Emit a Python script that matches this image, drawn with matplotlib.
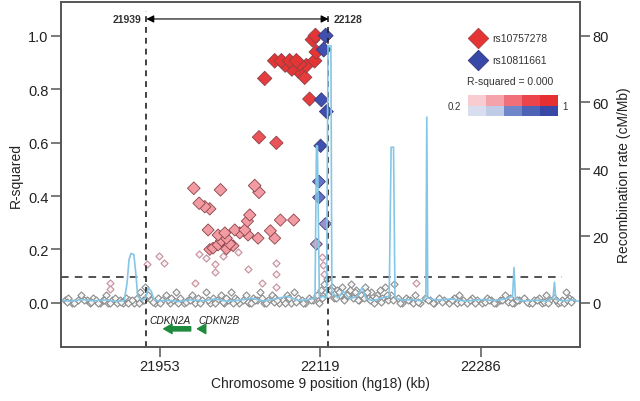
import matplotlib
matplotlib.use('Agg')
import matplotlib.pyplot as plt
from matplotlib.patches import Rectangle

plt.rcParams['font.family'] = ['Liberation Sans', 'DejaVu Sans']

# ---- data (positions in kb, hg18) ----
# SNPs in LD with rs10757278 (R-squared >= 0.2)
red_pos = [22114.5, 22111.5, 22115.4, 22113.6, 22072.2, 22079.1, 22087.7, 22094.7,
           22098.1, 22105.0, 22096.3, 22103.3, 22061.8, 22083.0, 22090.0, 22108.4,
           22055.9, 22073.9,
           21988.2, 22015.9, 22051.4, 22055.9, 21993.7, 21999.6, 22004.8, 22046.3,
           22043.9, 22078.1, 22091.9, 22003.1, 22013.4, 22020.4, 22030.7, 22035.9,
           22041.1, 22044.5, 22054.9, 22067.7, 22072.2, 22016.9, 22022.1, 22025.5,
           22008.2, 22004.8, 22013.4, 22022.1, 22029.0]
red_r2 = [1.0, 0.985, 0.939, 0.906, 0.906, 0.906, 0.906, 0.906,
          0.894, 0.888, 0.869, 0.844, 0.840, 0.890, 0.875, 0.763,
          0.620, 0.599,
          0.429, 0.423, 0.439, 0.414, 0.373, 0.360, 0.352, 0.329,
          0.306, 0.310, 0.310, 0.273, 0.254, 0.262, 0.273, 0.262,
          0.273, 0.254, 0.242, 0.270, 0.242, 0.233, 0.242, 0.221,
          0.205, 0.200, 0.217, 0.202, 0.214]

# SNPs in LD with rs10811661
blue_pos = [22125.0, 22123.0, 22120.6, 22125.8, 22119.8, 22118.1, 22118.1, 22124.7, 22115.4]
blue_r2 = [1.0, 0.948, 0.760, 0.716, 0.588, 0.454, 0.395, 0.296, 0.220]

# weakly linked SNPs near the associated block (0.05 < R-squared < 0.2)
weak_pos = [21993.7, 22000.7, 22010.0, 22010.0, 22018.0, 22034.1, 22044.5, 22073.2,
            22073.2, 22059.4, 21989.3, 22073.9, 21952.3, 21957.1, 21939.2, 21901.2,
            21901.2, 22219.0, 22121.6, 22122.2, 22123.3]
weak_r2 = [0.183, 0.167, 0.146, 0.115, 0.177, 0.190, 0.127, 0.149,
           0.108, 0.074, 0.074, 0.059, 0.175, 0.149, 0.146, 0.074,
           0.052, 0.074, 0.171, 0.140, 0.108]

# remaining SNPs
base_pos = [21855, 21858, 21862, 21868, 21871, 21877, 21880, 21884, 21887, 21891,
            21894, 21897, 21899, 21903, 21906, 21909, 21912, 21915, 21918, 21921,
            21926, 21929, 21932, 21935, 21938, 21941, 21944, 21948, 21951, 21955,
            21959, 21963, 21967, 21970, 21974, 21978, 21982, 21986, 21989, 21993,
            21997, 22001, 22005, 22008, 22012, 22016, 22020, 22024, 22027, 22031,
            22035, 22039, 22042, 22046, 22050, 22054, 22057, 22061, 22065, 22069,
            22073, 22077, 22081, 22085, 22089, 22092, 22096, 22100, 22104, 22108,
            22112, 22116, 22120, 22123, 22126, 22129, 22132, 22134, 22137, 22140,
            22142, 22145, 22148, 22151, 22154, 22157, 22160, 22163, 22166, 22169,
            22172, 22175, 22178, 22181, 22184, 22187, 22190, 22193, 22196, 22200,
            22204, 22208, 22213, 22218, 22223, 22228, 22233, 22238, 22243, 22248,
            22253, 22258, 22263, 22268, 22272, 22277, 22282, 22287, 22292, 22297,
            22302, 22306, 22311, 22316, 22321, 22326, 22331, 22336, 22341, 22346,
            22350, 22354, 22358, 22362, 22366, 22370, 22374, 22378, 22381,
            21857, 21864, 21874, 21882, 21889, 21895, 21901, 21913, 21920, 21924,
            21931, 21937, 21946, 21953, 21961, 21965, 21972, 21980, 21984, 21995,
            22003, 22010, 22018, 22022, 22029, 22033, 22044, 22048, 22052, 22059,
            22063, 22071, 22075, 22083, 22087, 22094, 22102, 22110, 22118, 22121,
            22125, 22128, 22131, 22136, 22139, 22144, 22147, 22150, 22153, 22156,
            22159, 22162, 22165, 22168, 22171, 22177, 22183, 22189, 22195, 22202,
            22210, 22216, 22221, 22231, 22236, 22246, 22256, 22261, 22266, 22275,
            22280, 22290, 22295, 22300, 22308, 22314, 22318, 22324, 22334, 22339,
            22344, 22352, 22356, 22364, 22368, 22372, 22376, 22380]
base_r2 = [0.01, 0.02, 0.0, 0.01, 0.03, 0.01, 0.0, 0.02, 0.01, 0.0,
           0.01, 0.03, 0.0, 0.01, 0.02, 0.0, 0.01, 0.0, 0.02, 0.01,
           0.0, 0.02, 0.04, 0.01, 0.06, 0.03, 0.01, 0.0, 0.02, 0.01,
           0.03, 0.0, 0.01, 0.04, 0.02, 0.0, 0.01, 0.03, 0.0, 0.02,
           0.01, 0.04, 0.0, 0.02, 0.01, 0.03, 0.0, 0.01, 0.04, 0.02,
           0.0, 0.01, 0.03, 0.0, 0.02, 0.01, 0.04, 0.0, 0.01, 0.03,
           0.02, 0.0, 0.01, 0.03, 0.0, 0.04, 0.02, 0.01, 0.0, 0.02,
           0.01, 0.03, 0.05, 0.07, 0.09, 0.04, 0.06, 0.02, 0.05, 0.03,
           0.06, 0.02, 0.04, 0.07, 0.03, 0.05, 0.01, 0.03, 0.06, 0.02,
           0.04, 0.0, 0.03, 0.05, 0.02, 0.06, 0.01, 0.03, 0.07, 0.02,
           0.0, 0.02, 0.01, 0.03, 0.0, 0.02, 0.01, 0.0, 0.02, 0.01,
           0.0, 0.02, 0.03, 0.01, 0.0, 0.02, 0.01, 0.0, 0.02, 0.01,
           0.0, 0.01, 0.03, 0.02, 0.0, 0.01, 0.02, 0.0, 0.01, 0.02,
           0.0, 0.03, 0.01, 0.02, 0.0, 0.01, 0.04, 0.02, 0.01,
           0.005, 0.0, 0.01, 0.005, 0.0, 0.01, 0.0, 0.005, 0.0, 0.01,
           0.0, 0.01, 0.005, 0.0, 0.01, 0.02, 0.0, 0.005, 0.01, 0.0,
           0.01, 0.0, 0.005, 0.02, 0.0, 0.01, 0.005, 0.0, 0.01, 0.02,
           0.0, 0.005, 0.01, 0.0, 0.02, 0.005, 0.0, 0.01, 0.0, 0.02,
           0.04, 0.03, 0.05, 0.02, 0.04, 0.01, 0.03, 0.05, 0.02, 0.04,
           0.01, 0.03, 0.02, 0.04, 0.01, 0.02, 0.005, 0.03, 0.01, 0.0,
           0.01, 0.0, 0.005, 0.01, 0.0, 0.005, 0.01, 0.0, 0.005, 0.01,
           0.0, 0.005, 0.01, 0.0, 0.01, 0.005, 0.0, 0.01, 0.005, 0.0,
           0.01, 0.005, 0.0, 0.01, 0.005, 0.0, 0.01, 0.005]

# recombination rate (cM/Mb)
rec_pos = [21852, 21860, 21872, 21885, 21897, 21908, 21916, 21919, 21921, 21923,
           21926, 21928, 21930, 21934, 21938, 21941, 21944, 21947, 21951, 21960,
           21972, 21985, 21998, 22010, 22022, 22035, 22048, 22060, 22072, 22085,
           22097, 22108, 22114, 22115.5, 22116.5, 22118.5, 22119.5, 22122, 22126, 22127.5,
           22128.5, 22130.5, 22131.5, 22134, 22138, 22143, 22150, 22158, 22163, 22167,
           22175, 22184, 22191, 22193, 22195.5, 22197, 22205, 22215, 22225,
           22229, 22230, 22231, 22240, 22255, 22270, 22285, 22300, 22312, 22319,
           22320.5, 22322, 22330, 22345, 22355, 22361, 22362.5, 22364, 22372, 22382,
           22387]
rec_rate = [0.8, 0.5, 1.0, 0.6, 0.9, 0.4, 0.7, 6, 13, 14.8,
            14.5, 9, 2, 0.8, 1.2, 4.5, 3.5, 1.0, 0.6, 0.8,
            0.4, 0.9, 0.6, 1.2, 0.5, 0.8, 1.4, 0.6, 1.1, 2.0,
            0.7, 1.0, 1.5, 47, 47, 2, 1.5, 2, 1.5, 77,
            77, 77, 3, 2.5, 1.5, 3.5, 1.2, 2, 4.6, 1.2,
            0.7, 1.5, 2, 46.6, 46.6, 1.5, 0.8, 1.0, 0.6,
            2, 55.6, 1.5, 0.8, 1.2, 0.5, 1.0, 0.7, 1.2, 2,
            10.6, 1.2, 0.6, 0.8, 0.5, 1.5, 6.2, 1.0, 0.6, 0.9,
            0.5]

# genes (start, end) kb, strand -
gene_names = ['CDKN2A', 'CDKN2B']
gene_start = [21957.0, 21992.0]
gene_end = [21985.0, 21999.5]
gene_label_x = [21964, 22014]

region_start, region_end = 21939, 22128
xticks = [21953, 22119, 22286]
red_snp, blue_snp = 'rs10757278', 'rs10811661'

red_scale = ['#f9ccd2', '#f5a3ab', '#f0707a', '#eb454b', '#e52f31']
blue_scale = ['#d6def0', '#c0cbe8', '#6f86c9', '#4d63b5', '#3848a6']


def red_col(r):
    if r >= 0.85:
        return '#e53434'
    if r >= 0.7:
        return '#e63c3e'
    if r >= 0.5:
        return '#ea5459'
    return '#f39ba3'


def blue_col(r):
    if r >= 0.55:
        return '#4050ae'
    if r >= 0.35:
        return '#6474c4'
    if r >= 0.25:
        return '#9a92d0'
    return '#cfa2bc'


def size(r):
    w = 11 + 4 * r  # pixel width
    return (w / 1.964) ** 2


fig = plt.figure(figsize=(6.4, 4.02), dpi=100)
ax = fig.add_axes([61 / 640, 1 - 348 / 402, 519 / 640, 345 / 402])
ylo, yhi = -0.165, 1.126
ax.set_xlim(21850.4, 22389)
ax.set_ylim(ylo, yhi)

# low-LD SNPs
ax.scatter(base_pos, base_r2, marker='D', s=13, facecolor='#f6f6f6',
           edgecolor='#8c8c8c', linewidths=0.8, zorder=2)
ax.scatter(weak_pos, weak_r2, marker='D', s=13, facecolor='#fbf1f3',
           edgecolor='#c4909c', linewidths=0.8, zorder=2)

# large diamonds (sorted so high r2 is drawn on top)
order = sorted(range(len(red_pos)), key=lambda i: red_r2[i])
ax.scatter([red_pos[i] for i in order], [red_r2[i] for i in order], marker='D',
           s=[size(red_r2[i]) for i in order], c=[red_col(red_r2[i]) for i in order],
           edgecolors='#8a4248', linewidths=0.6, zorder=3)
ax.scatter(blue_pos, blue_r2, marker='D', s=[size(r) for r in blue_r2],
           c=[blue_col(r) for r in blue_r2], edgecolors='#3a3a78', linewidths=0.6, zorder=4)

# region markers
ax.plot([region_start] * 2, [ylo, 1.092], color='#222', lw=1.2, ls=(0, (3.5, 3)), zorder=5)
ax.plot([region_end] * 2, [ylo, 1.092], color='#222', lw=1.2, ls=(0, (3.5, 3)), zorder=5)
ax.annotate('', xy=(region_end, 1.0625), xytext=(region_start, 1.0625),
            arrowprops=dict(arrowstyle='<|-|>', color='black', lw=0.8,
                            mutation_scale=11, shrinkA=0, shrinkB=0), zorder=6)
ax.text(region_start - 5, 1.0625, str(region_start), ha='right', va='center',
        fontsize=7.5, fontweight='bold', color='#333')
ax.text(region_end + 5, 1.0625, str(region_end), ha='left', va='center',
        fontsize=7.5, fontweight='bold', color='#333')
ax.plot([21850.4, region_start], [0.098, 0.098], color='#222', lw=1.1,
        ls=(0, (5, 4)), zorder=5)
ax.plot([region_end, 22370], [0.098, 0.098], color='#222', lw=1.1,
        ls=(0, (5, 4)), zorder=5)

# genes
for name, s0, s1, lx in zip(gene_names, gene_start, gene_end, gene_label_x):
    ax.annotate('', xy=(s0, -0.097), xytext=(s1, -0.097),
                arrowprops=dict(arrowstyle='simple,head_length=0.75,head_width=0.85,tail_width=0.38',
                                color='#1e8a3e', shrinkA=0, shrinkB=0, mutation_scale=8))
    ax.text(lx, -0.064, name, ha='center', va='center', fontsize=7.3, style='italic', color='#222')

# legend
ax.scatter([22282.8], [0.99], marker='D', s=110, c='#e53434', edgecolors='#9a3a3a', linewidths=0.5, zorder=6)
ax.scatter([22282.8], [0.91], marker='D', s=110, c='#3848a6', edgecolors='#2a2a70', linewidths=0.5, zorder=6)
ax.text(22298, 0.99, red_snp, ha='left', va='center', fontsize=7.5, color='#333')
ax.text(22298, 0.91, blue_snp, ha='left', va='center', fontsize=7.5, color='#333')
ax.text(22316, 0.829, 'R-squared = 0.000', ha='center', va='center', fontsize=7.5, color='#333')
cw = (22365.8 - 22272.5) / 5
for k in range(5):
    ax.add_patch(Rectangle((22272.5 + k * cw, 0.738), cw, 0.04, facecolor=red_scale[k],
                           edgecolor='none', zorder=6))
    ax.add_patch(Rectangle((22272.5 + k * cw, 0.698), cw, 0.04, facecolor=blue_scale[k],
                           edgecolor='none', zorder=6))
ax.text(22266, 0.738, '0.2', ha='right', va='center', fontsize=7, color='#333')
ax.text(22371, 0.738, '1', ha='left', va='center', fontsize=7, color='#333')

# axes styling
ax.set_xticks(xticks)
ax.set_yticks([0, 0.2, 0.4, 0.6, 0.8, 1.0])
ax.set_yticklabels(['0.0', '0.2', '0.4', '0.6', '0.8', '1.0'])
ax.set_xlabel('Chromosome 9 position (hg18) (kb)', fontsize=10, color='#222', labelpad=2)
ax.set_ylabel('R-squared', fontsize=10, color='#222', labelpad=4)
ax.tick_params(length=7, width=1.1, color='#555', labelsize=10.5, labelcolor='#222', pad=2)

ax2 = ax.twinx()
ax2.plot(rec_pos, rec_rate, color='#84c6e6', lw=1.2, zorder=1)
ax2.set_ylim(ylo * 80, yhi * 80)
ax2.set_yticks([0, 20, 40, 60, 80])
ax2.set_ylabel('Recombination rate (cM/Mb)', fontsize=10, color='#222', labelpad=6)
ax2.tick_params(length=7, width=1.1, color='#555', labelsize=10.5, labelcolor='#222', pad=2)

for a in (ax, ax2):
    for sp in a.spines.values():
        sp.set_color('#555')
        sp.set_linewidth(1.2)

fig.savefig('out.png', dpi=100)
